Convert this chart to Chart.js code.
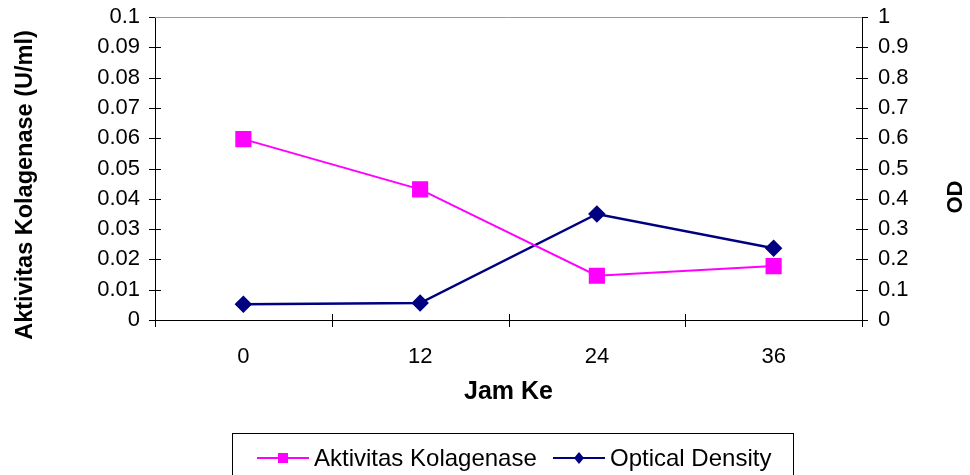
<!DOCTYPE html>
<html>
<head>
<meta charset="utf-8">
<script src="https://cdn.jsdelivr.net/npm/chart.js@4.4.1/dist/chart.umd.min.js"></script>
<style>
  html, body { margin: 0; padding: 0; background: #fff; }
</style>
</head>
<body>
<canvas id="chart" width="970" height="475"></canvas>
<script>
const hours = ['0', '12', '24', '36'];
const kolagenase = [0.0597, 0.0431, 0.0146, 0.0178];
const opticalDensity = [0.052, 0.056, 0.350, 0.237];

const FONT = '"Liberation Sans", Arial, sans-serif';
const PINK = '#ff00ff';
const NAVY = '#000080';

function sideTitle(ctx, text, x, y, size) {
  ctx.save();
  ctx.fillStyle = '#000';
  ctx.font = 'bold ' + size + 'px ' + FONT;
  ctx.textAlign = 'center';
  ctx.textBaseline = 'middle';
  ctx.translate(x, y);
  ctx.rotate(-Math.PI / 2);
  ctx.fillText(text, 0, 0);
  ctx.restore();
}

// cross ticks, top border, side titles and the boxed legend
const extras = {
  id: 'extras',
  afterDraw(chart) {
    const { ctx, chartArea: a, scales } = chart;
    ctx.save();
    ctx.strokeStyle = '#000';
    ctx.lineWidth = 1;
    ctx.beginPath();
    scales.y.ticks.forEach(t => {
      const y = Math.round(scales.y.getPixelForValue(t.value)) + 0.5;
      ctx.moveTo(a.left - 6, y); ctx.lineTo(a.left + 6, y);
    });
    scales.y1.ticks.forEach(t => {
      const y = Math.round(scales.y1.getPixelForValue(t.value)) + 0.5;
      ctx.moveTo(a.right - 6, y); ctx.lineTo(a.right + 6, y);
    });
    for (let i = 0; i <= hours.length; i++) {
      const x = Math.round(scales.x.getPixelForValue(i - 0.5)) + 0.5;
      ctx.moveTo(x, a.bottom - 6); ctx.lineTo(x, a.bottom + 7);
    }
    ctx.stroke();

    ctx.strokeStyle = '#999';
    ctx.beginPath();
    ctx.moveTo(a.left, a.top + 0.5); ctx.lineTo(a.right, a.top + 0.5);
    ctx.stroke();

    sideTitle(ctx, 'Aktivitas Kolagenase (U/ml)', 26, 185, 23.5);
    sideTitle(ctx, 'OD', 956, 197, 22);

    // legend
    ctx.strokeStyle = '#000';
    ctx.lineWidth = 1;
    ctx.strokeRect(232.5, 433.5, 561, 60);
    ctx.font = '24px ' + FONT;
    ctx.textAlign = 'left';
    ctx.textBaseline = 'middle';
    const ly = 458;
    const items = [
      { x: 257, ds: chart.data.datasets[0] },
      { x: 553, ds: chart.data.datasets[1] }
    ];
    items.forEach(({ x, ds }) => {
      ctx.strokeStyle = ds.borderColor;
      ctx.lineWidth = 2;
      ctx.beginPath();
      ctx.moveTo(x, ly); ctx.lineTo(x + 52, ly);
      ctx.stroke();
      ctx.fillStyle = ds.pointBackgroundColor;
      ctx.beginPath();
      if (ds.pointStyle === 'rect') {
        ctx.rect(x + 21, ly - 5, 10, 10);
      } else {
        ctx.moveTo(x + 26, ly - 6); ctx.lineTo(x + 31, ly);
        ctx.lineTo(x + 26, ly + 6); ctx.lineTo(x + 21, ly);
        ctx.closePath();
      }
      ctx.fill();
      ctx.fillStyle = '#000';
      ctx.fillText(ds.label, x + 57, ly + 1);
    });
    ctx.restore();
  }
};

// hidden tick marks only reserve room between axis and labels
const hiddenGrid = {
  display: true, drawOnChartArea: false, drawTicks: true,
  tickLength: 15, tickColor: 'rgba(0,0,0,0)'
};

new Chart(document.getElementById('chart'), {
  type: 'line',
  data: {
    labels: hours,
    datasets: [
      {
        label: 'Aktivitas Kolagenase',
        data: kolagenase,
        yAxisID: 'y',
        borderColor: PINK,
        backgroundColor: PINK,
        pointBackgroundColor: PINK,
        pointBorderColor: PINK,
        pointStyle: 'rect',
        pointRadius: 10,
        borderWidth: 2,
        tension: 0
      },
      {
        label: 'Optical Density',
        data: opticalDensity,
        yAxisID: 'y1',
        borderColor: NAVY,
        backgroundColor: NAVY,
        pointBackgroundColor: NAVY,
        pointBorderColor: NAVY,
        pointStyle: 'rectRot',
        pointRadius: 7,
        borderWidth: 2.5,
        tension: 0
      }
    ]
  },
  options: {
    responsive: false,
    animation: false,
    events: [],
    layout: { padding: { top: 17, left: 0, right: 0, bottom: 0 } },
    plugins: {
      legend: { display: false },
      tooltip: { enabled: false }
    },
    scales: {
      x: {
        offset: true,
        afterFit(s) { s.height = 155; },
        grid: { display: false, offset: true },
        border: { display: true, color: '#000', width: 1 },
        ticks: { color: '#000', font: { family: FONT, size: 22 }, padding: 16, maxRotation: 0 },
        title: {
          display: true, text: 'Jam Ke', color: '#000',
          font: { family: FONT, size: 25, weight: 'bold' },
          padding: { top: 0, bottom: 68 }
        }
      },
      y: {
        position: 'left',
        min: 0, max: 0.1,
        afterFit(s) { s.width = 155; },
        grid: hiddenGrid,
        border: { display: true, color: '#000', width: 1 },
        ticks: {
          stepSize: 0.01, autoSkip: false, color: '#000', padding: 0,
          font: { family: FONT, size: 22 },
          callback: v => +v.toFixed(2)
        }
      },
      y1: {
        position: 'right',
        min: 0, max: 1,
        afterFit(s) { s.width = 108; },
        grid: hiddenGrid,
        border: { display: true, color: '#000', width: 1 },
        ticks: {
          stepSize: 0.1, autoSkip: false, color: '#000', padding: 1,
          font: { family: FONT, size: 22 },
          callback: v => +v.toFixed(1)
        }
      }
    }
  },
  plugins: [extras]
});
</script>
</body>
</html>
